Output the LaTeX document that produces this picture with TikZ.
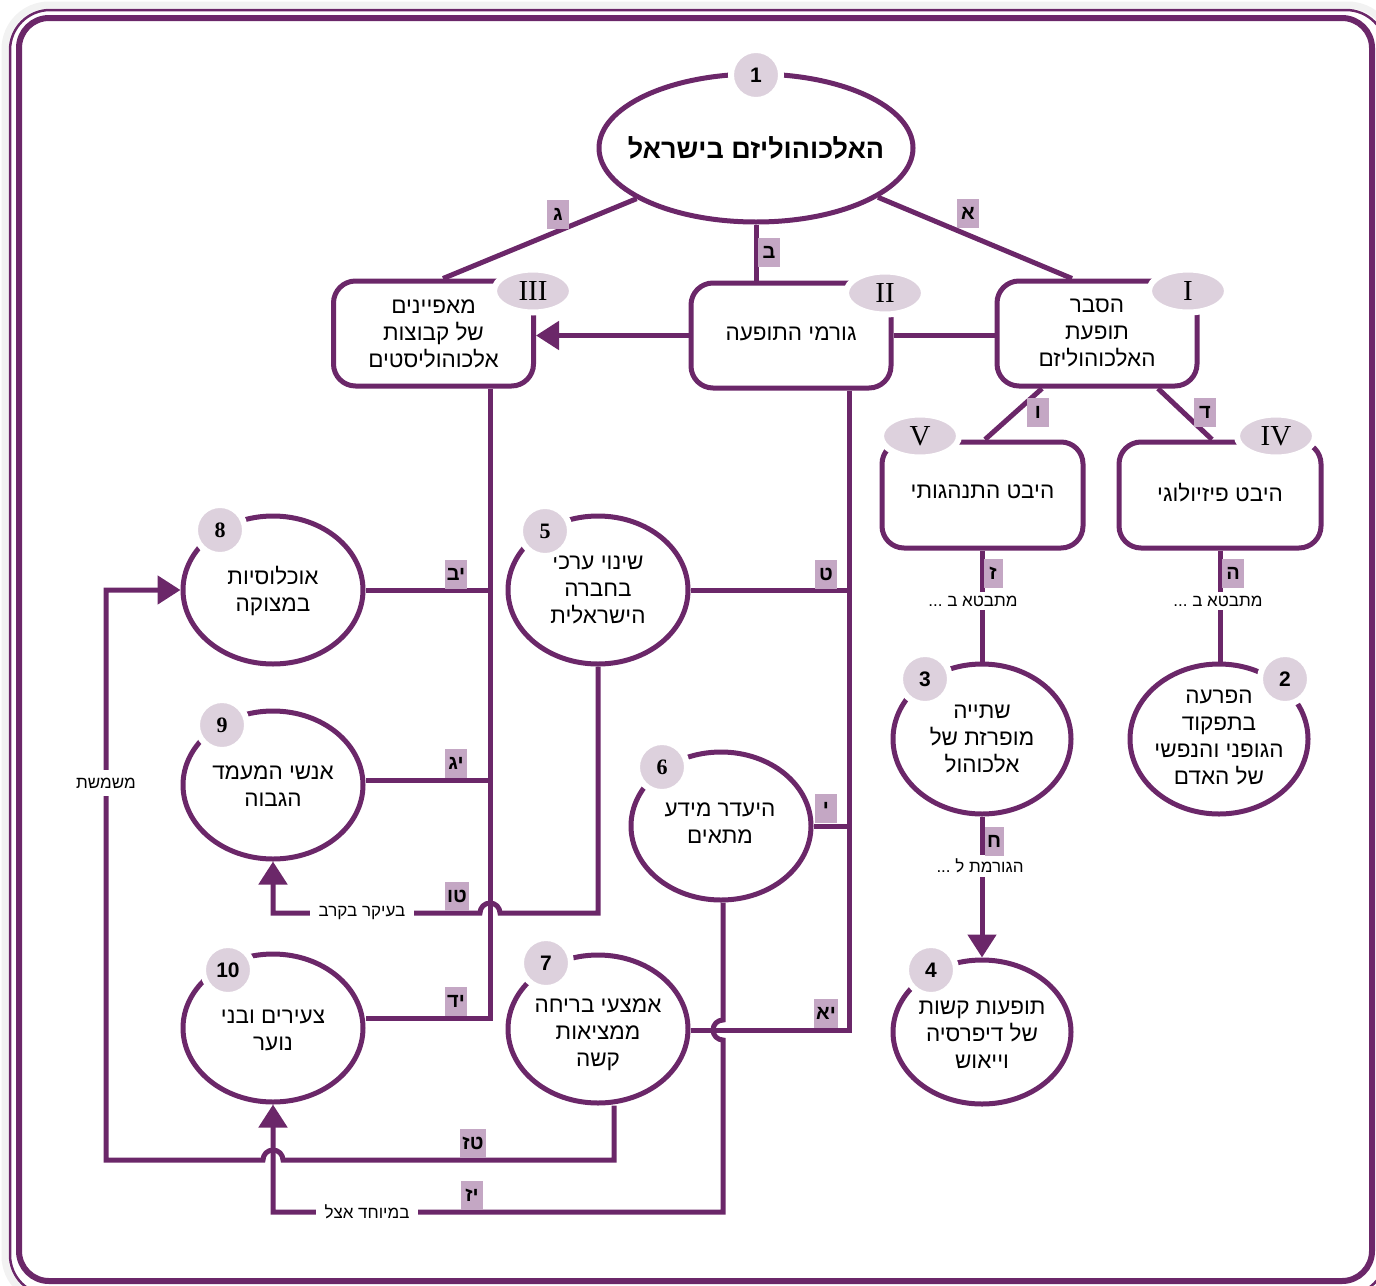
\documentclass[tikz,border=0pt]{standalone}
\usepackage{fontspec}
\usetikzlibrary{shapes.geometric,arrows.meta}
\newfontfamily\hebfont[Script=Hebrew]{Liberation Sans}
\newfontfamily\numsans{Liberation Sans}
\newfontfamily\numserif{Liberation Serif}
\TeXXeTstate=1
\newcommand{\heline}[1]{\beginR #1\endR}
\definecolor{plum}{HTML}{6B2769}
\definecolor{badgefill}{HTML}{DDD1DD}
\definecolor{tagfill}{HTML}{C4A7C4}

\tikzset{
  conn/.style={draw=plum, line width=5pt},
  arrowed/.style={-{Triangle[length=23pt,width=28pt]}},
  topic/.style={ellipse, draw=plum, line width=5pt, fill=white,
    minimum width=180pt, minimum height=148pt, inner sep=0pt},
  topictext/.style={align=center, inner sep=0pt,
    font=\hebfont\fontsize{22.5}{27}\selectfont},
  aspect/.style={rectangle, rounded corners=22pt, draw=plum, line width=5pt,
    fill=white, minimum width=200pt, minimum height=105pt, inner sep=0pt,
    align=center, font=\hebfont\fontsize{22.5}{27}\selectfont},
  numbadge/.style={circle, fill=badgefill, draw=white, line width=6pt,
    minimum size=50pt, inner sep=0pt,
    font=\numsans\bfseries\fontsize{21}{21}\selectfont},
  serifbadge/.style={numbadge, font=\numserif\bfseries\fontsize{22}{22}\selectfont},
  romanbadge/.style={ellipse, fill=badgefill, draw=white, line width=6pt,
    minimum width=78pt, minimum height=43pt, inner sep=0pt,
    font=\numserif\fontsize{29}{29}\selectfont},
  tag/.style={rectangle, fill=tagfill, minimum width=22pt, minimum height=29pt,
    inner xsep=2pt, inner ysep=0pt,
    font=\hebfont\bfseries\fontsize{20}{20}\selectfont},
  linktext/.style={fill=white, inner xsep=9pt, inner ysep=4pt,
    font=\hebfont\fontsize{17}{17}\selectfont},
}

\begin{document}
\begin{tikzpicture}[x=1pt,y=-1pt]
\useasboundingbox (0,0) rectangle (1376,1285);

% outer frame: soft shadow, thin line, thick line
\draw[black!5, line width=7pt, rounded corners=44pt] (5,5) rectangle (1392,1300);
\draw[plum, line width=2.5pt, rounded corners=40pt] (10,10) rectangle (1386,1295);
\draw[plum, line width=6pt, rounded corners=30pt] (19,18) rectangle (1372,1281);

% ---------- main nodes ----------
\node[topic, minimum width=314pt, minimum height=148pt] (e1) at (756,148) {};
\node[topictext, font=\hebfont\bfseries\fontsize{27}{30}\selectfont] (e1t) at (e1) {\heline{האלכוהוליזם בישראל}};

\node[aspect] (b1) at (1097,333.5) {\heline{הסבר}\\\heline{תופעת}\\\heline{האלכוהוליזם}};
\node[aspect] (b2) at (791,335.5) {\raisebox{3pt}{\heline{גורמי התופעה}}};
\node[aspect] (b3) at (433.5,333.5) {\heline{מאפיינים}\\\heline{של קבוצות}\\\heline{אלכוהוליסטים}};
\node[aspect, minimum width=201pt, minimum height=106pt] (b5) at (982.5,495) {\raisebox{6pt}{\heline{היבט התנהגותי}}};
\node[aspect, minimum width=202pt, minimum height=106pt] (b4) at (1220,495) {\raisebox{6pt}{\heline{היבט פיזיולוגי}}};

\node[topic, minimum width=178pt, minimum height=150pt] (e2) at (1219,739) {};
\node[topictext] (e2t) at (1219,737) {\heline{הפרעה}\\\heline{בתפקוד}\\\heline{הגופני והנפשי}\\\heline{של האדם}};
\node[topic, minimum width=178pt, minimum height=150pt] (e3) at (982,739) {};
\node[topictext] (e3t) at (e3) {\heline{שתייה}\\\heline{מופרזת של}\\\heline{אלכוהול}};
\node[topic, minimum width=178pt, minimum height=144pt] (e4) at (982,1032) {};
\node[topictext] (e4t) at (982,1035) {\heline{תופעות קשות}\\\heline{של דיפרסיה}\\\heline{וייאוש}};

\node[topic] (e5) at (598,590) {};
\node[topictext] (e5t) at (e5) {\heline{שינוי ערכי}\\\heline{בחברה}\\\heline{הישראלית}};
\node[topic] (e6) at (721,826) {};
\node[topictext] (e6t) at (720,823) {\heline{היעדר מידע}\\\heline{מתאים}};
\node[topic] (e7) at (598,1029) {};
\node[topictext] (e7t) at (598,1035) {\heline{אמצעי בריחה}\\\heline{ממציאות}\\\heline{קשה}};

\node[topic] (e8) at (273,590) {};
\node[topictext] (e8t) at (273,591) {\heline{אוכלוסיות}\\\heline{במצוקה}};
\node[topic] (e9) at (273,785) {};
\node[topictext] (e9t) at (273,786) {\heline{אנשי המעמד}\\\heline{הגבוה}};
\node[topic] (e10) at (273,1028) {};
\node[topictext] (e10t) at (273,1030) {\heline{צעירים ובני}\\\heline{נוער}};

% ---------- routing points ----------
\coordinate (kL) at (490,1018);
\coordinate (kR) at (849,1030);
\coordinate (tuA) at (598,913);
\coordinate (tuB) at (500,913);
\coordinate (tzA) at (614,1160);
\coordinate (tzB) at (283,1160);
\coordinate (tzC) at (106,1160);
\coordinate (tzD) at (106,590);
\coordinate (yzA) at (723,1020);
\coordinate (yzB) at (723,1212);

% ---------- connectors ----------
\draw[conn] (e1.203) -- ([xshift=9.5pt]b3.north);
\draw[conn] (e1.south) -- (e1.south |- b2.north);
\draw[conn] (e1.-22) -- ([xshift=-25pt]b1.north);
\draw[conn] (b2.east) -- (b2.east -| b1.west);
\draw[conn, arrowed] (b2.west) -- (b2.west -| b3.east);
\draw[conn] ([xshift=-55pt]b1.south) -- ([xshift=2.5pt]b5.north);
\draw[conn] ([xshift=61pt]b1.south) -- ([xshift=-8pt]b4.north);
\draw[conn] (b5.south) -- (b5.south |- e3.north);
\draw[conn] (b4.south) -- (b4.south |- e2.north);
\draw[conn, arrowed] (e3.south) -- (e4.north);

% left trunk
\draw[conn] (b3.south -| kL) -- (kL) -- ([yshift=10pt]e10.east);
\draw[conn] (e8.east) -- (e8.east -| kL);
\draw[conn] ([yshift=5pt]e9.east) -- ([yshift=5pt]e9.east -| kL);

% right trunk
\draw[conn] (b2.south -| kR) -- (kR) -- (kR -| e7.east);
\draw[conn] (e5.east) -- (e5.east -| kR);
\draw[conn] (e6.east) -- (e6.east -| kR);

% from 5 to 9 (hops over the left trunk)
\draw[conn, arrowed] (e5.south) -- (tuA) -- (tuB)
  arc[start angle=0, end angle=180, radius=10pt] -- (e9.south |- tuA) -- (e9.south);
% from 7 round to 8 (hops over the line into 10)
\draw[conn, arrowed] ([xshift=16pt]e7.south) -- (tzA) -- (tzB)
  arc[start angle=0, end angle=180, radius=10pt] -- (tzC) -- (tzD) -- (e8.west);
% from 6 to 10 (hops over the right trunk's lower branch)
\draw[conn, arrowed] ([xshift=2pt]e6.south) -- (yzA)
  arc[start angle=90, end angle=270, radius=10pt] -- (yzB) -- (e10.south |- yzB) -- (e10.south);

% ---------- texts on connectors ----------
\node[linktext] (l1) at (973,601) {\heline{מתבטא ב ...}};
\node[linktext] (l2) at (1218,601) {\heline{מתבטא ב ...}};
\node[linktext] (l3) at (980,866) {\heline{הגורמת ל ...}};
\node[linktext] (l4) at (362,913) {\heline{בעיקר בקרב}};
\node[linktext, inner xsep=4pt, inner ysep=8pt] (l5) at (106,783) {\heline{משמשת}};
\node[linktext] (l6) at (367,1212) {\heline{במיוחד אצל}};

% ---------- letter tags ----------
\node[tag] (tA) at (968,213) {\heline{א}};
\node[tag] (tB) at (769,252) {\heline{ב}};
\node[tag] (tG) at (558,214) {\heline{ג}};
\node[tag] (tD) at (1205,412) {\heline{ד}};
\node[tag] (tV) at (1038,412) {\heline{ו}};
\node[tag, minimum width=19pt] (tZ) at (993,573) {\heline{ז}};
\node[tag] (tH) at (1233,573) {\heline{ה}};
\node[tag, minimum width=19pt] (tHet) at (994,841) {\heline{ח}};
\node[tag] (tT) at (826,574) {\heline{ט}};
\node[tag] (tY) at (826,808) {\heline{י}};
\node[tag] (tYA) at (826,1013) {\heline{יא}};
\node[tag] (tYB) at (456,574) {\heline{יב}};
\node[tag] (tYG) at (456,763) {\heline{יג}};
\node[tag] (tYD) at (456,1001) {\heline{יד}};
\node[tag] (tTU) at (457,896) {\heline{טו}};
\node[tag] (tTZ) at (473,1143) {\heline{טז}};
\node[tag] (tYZ) at (472,1195) {\heline{יז}};

% ---------- badges ----------
\node[numbadge] (n1) at (756,75) {1};
\node[numbadge] (n2) at (1285,679) {2};
\node[numbadge] (n3) at (925,679) {3};
\node[numbadge] (n4) at (931,970) {4};
\node[serifbadge] (n5) at (545,531) {5};
\node[serifbadge] (n6) at (662,767) {6};
\node[numbadge] (n7) at (546,963) {7};
\node[serifbadge] (n8) at (220,530) {8};
\node[serifbadge] (n9) at (222,725) {9};
\node[numbadge] (n10) at (228,970) {10};

\node[romanbadge] (r1) at (1188,291) {I};
\node[romanbadge] (r2) at (885,293) {II};
\node[romanbadge] (r3) at (533,291) {III};
\node[romanbadge] (r4) at (1276,436) {IV};
\node[romanbadge] (r5) at (920,436) {V};
\end{tikzpicture}
\end{document}
